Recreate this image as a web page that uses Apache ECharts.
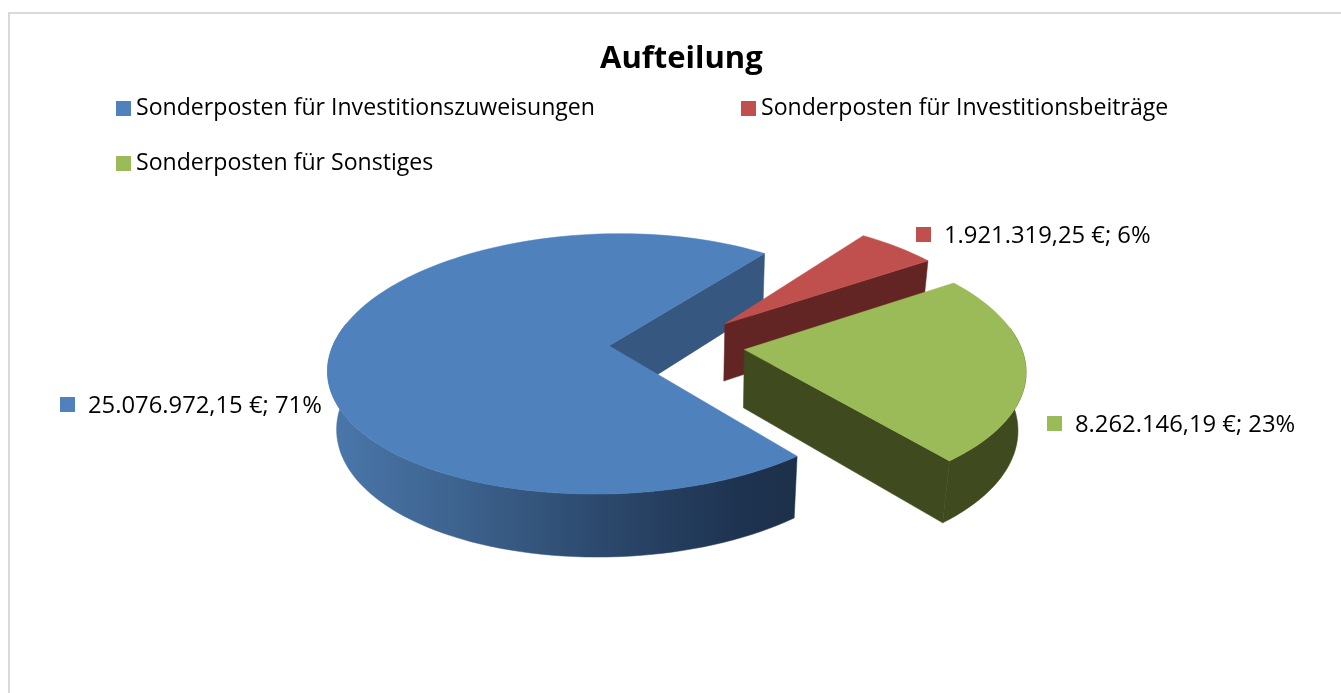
<!DOCTYPE html>
<html><head><meta charset="utf-8">
<style>html,body{margin:0;padding:0;background:#fff}#c{width:1341px;height:693px}</style>
<script src="https://cdn.jsdelivr.net/npm/echarts@6/dist/echarts.min.js"></script>
</head><body><div id="c"></div>
<script>
const categories = ['Sonderposten für Investitionszuweisungen','Sonderposten für Investitionsbeiträge','Sonderposten für Sonstiges'];
const values = [25076972.15, 1921319.25, 8262146.19];
const percentLabels = [71, 6, 23];
const topColors = ['#4f81bd','#c0504d','#9bbb59'];
const FONT = '"Open Sans"';
const total = values.reduce((a,b)=>a+b,0);
const startAngle = 140.5, explode = 0.246;
const P = {cx:677, cy:345, rx:276, ry:127.5, h:59.5, py:0.1385, px:0.15, q:0.025};
const perspectiveShift = [1.2, 1, 0.6];
const wallColors = ['#355780','#632523','#3f4a1f'];
const labelPos = [[60,405],[916,235],[1047,424]];
const chart = echarts.init(document.getElementById('c'),null,{renderer:'canvas'});
function fmt(v){const [a,b]=v.toFixed(2).split('.');return a.replace(/\B(?=(\d{3})+$)/g,'.')+','+b+' €';}
function proj(i,c,dX,dY,Z){
  const Y=c[1]+dY;
  const sy=1/(1-P.py*Y+P.q*Z), sx=1/(1-P.px*Y+P.q*Z);
  return [P.cx+P.rx*(c[0]*(1+(sx-1)*perspectiveShift[i])+dX*sx), P.cy+(P.ry*Y+P.h*Z)*sy];
}
function span(i){
  let a=startAngle; for(let k=0;k<i;k++) a+=values[k]/total*360;
  const s=a%360;
  return [s,s+values[i]/total*360];
}
function ring(i,c,a0,a1,Z){
  const out=[], n=Math.max(2,Math.ceil(Math.abs(a1-a0)/2));
  for(let k=0;k<=n;k++){
    const a=(a0+(a1-a0)*k/n)*Math.PI/180;
    out.push(proj(i,c,Math.sin(a),-Math.cos(a),Z));
  }
  return out;
}
const blueWall = new echarts.graphic.LinearGradient(335,0,800,0,[
  {offset:0,color:'#4a76aa'},{offset:0.247,color:'#3e6490'},{offset:0.57,color:'#2c496d'},{offset:0.87,color:'#1e3350'},{offset:1,color:'#1d3049'}],true);
function render(i){
  const [a0,a1]=span(i), mid=(a0+a1)/2*Math.PI/180;
  const c=[explode*Math.sin(mid),-explode*Math.cos(mid)];
  const kids=[], poly=(pts,fill)=>kids.push({type:'polygon',shape:{points:pts},style:{fill:fill,stroke:fill,lineWidth:0.5}});
  // straight wall that faces the viewer
  poly([proj(i,c,0,0,0),ring(i,c,a1,a1,0)[0],ring(i,c,a1,a1,1)[0],proj(i,c,0,0,1)],wallColors[i]);
  // outer wall, front part only
  const v0=Math.max(a0,80), v1=Math.min(a1,280);
  if(v1>v0){
    poly(ring(i,c,v0,v1,0).concat(ring(i,c,v0,v1,1).reverse()), i===0?blueWall:wallColors[i]);
  }
  // top face
  poly([proj(i,c,0,0,0)].concat(ring(i,c,a0,a1,0)),topColors[i]);
  // data label
  const [lx,ly]=labelPos[i];
  kids.push({type:'rect',shape:{x:lx,y:ly-8,width:15,height:15},style:{fill:topColors[i]}});
  kids.push({type:'text',x:lx+28,y:ly+1,style:{text:fmt(values[i])+'; '+percentLabels[i]+'%',
    fontFamily:'Open Sans',fontSize:23.8,fill:'#000',verticalAlign:'middle',align:'left'}});
  return {type:'group',children:kids};
}
const legendBase={orient:'horizontal',icon:'rect',itemWidth:15,itemHeight:15,textStyle:{fontFamily:FONT,fontSize:23.1,color:'#000'}};
chart.setOption({
  animation:false,
  backgroundColor:'#fff',
  title:{text:'Aufteilung',left:595,top:39,textStyle:{fontFamily:FONT,fontSize:31,fontWeight:'bold',color:'#000'}},
  legend:[
    Object.assign({},legendBase,{data:[categories[0]],left:111,top:92}),
    Object.assign({},legendBase,{data:[categories[1]],left:736,top:92}),
    Object.assign({},legendBase,{data:[categories[2]],left:111,top:147})
  ],
  graphic:[{type:'polyline',silent:true,shape:{points:[[9,700],[9,13],[1350,13]]},style:{stroke:'#d9d9d9',lineWidth:2,fill:'none'}}],
  series:[0,1,2].map(i=>({
    type:'custom',name:categories[i],coordinateSystem:'none',silent:true,
    itemStyle:{color:topColors[i]},data:[[values[i]]],z:i+2,
    renderItem:()=>render(i)
  }))
});
</script></body></html>
